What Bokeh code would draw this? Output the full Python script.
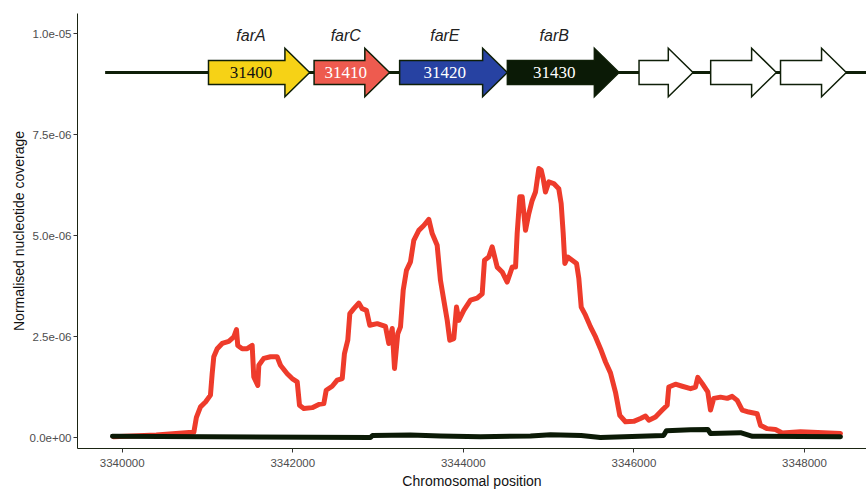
from bokeh.plotting import figure
from bokeh.models import Range1d, FixedTicker, CustomJSTickFormatter, ColumnDataSource
from bokeh.core.properties import value
from bokeh.embed import file_html
from bokeh.resources import INLINE

# ---------------- data ----------------
# coverage (units of 1e-6)
red_pos = [3339898, 3340400, 3340821, 3340840, 3340870, 3340918, 3340977, 3341035, 3341055, 3341074,
           3341114, 3341172, 3341250, 3341309, 3341340, 3341355, 3341407, 3341466, 3341524, 3341543,
           3341590, 3341602, 3341660, 3341739, 3341817, 3341856, 3341935, 3341993, 3342052, 3342079,
           3342129, 3342228, 3342305, 3342364, 3342392, 3342462, 3342521, 3342580, 3342606, 3342645,
           3342669, 3342716, 3342774, 3342814, 3342864, 3342903, 3342990, 3343087, 3343126, 3343166,
           3343193, 3343231, 3343263, 3343295, 3343333, 3343380, 3343419, 3343478, 3343536, 3343595,
           3343635, 3343693, 3343732, 3343771, 3343811, 3343841, 3343888, 3343920, 3343947, 3344005,
           3344084, 3344162, 3344221, 3344248, 3344298, 3344338, 3344377, 3344397, 3344455, 3344514,
           3344573, 3344612, 3344631, 3344662, 3344690, 3344729, 3344767, 3344807, 3344846, 3344885,
           3344913, 3344936, 3344963, 3345002, 3345060, 3345119, 3345147, 3345171, 3345190, 3345225,
           3345276, 3345327, 3345354, 3345382, 3345432, 3345491, 3345550, 3345608, 3345667, 3345725,
           3345784, 3345834, 3345901, 3345998, 3346077, 3346136, 3346175, 3346253, 3346332, 3346390,
           3346409, 3346487, 3346566, 3346664, 3346722, 3346749, 3346800, 3346866, 3346898, 3346936,
           3347015, 3347094, 3347152, 3347211, 3347270, 3347347, 3347445, 3347484, 3347563, 3347660,
           3347739, 3347953, 3348422]
red_cov = [0.02, 0.06, 0.13, 0.13, 0.50, 0.76, 0.88, 1.05, 1.58, 2.00,
           2.20, 2.33, 2.38, 2.49, 2.67, 2.28, 2.20, 2.20, 2.28, 1.50,
           1.29, 1.79, 1.96, 2.00, 2.00, 1.79, 1.58, 1.46, 1.38, 0.80,
           0.72, 0.74, 0.82, 0.84, 1.17, 1.27, 1.42, 1.46, 2.08, 2.41,
           3.07, 3.19, 3.33, 3.19, 3.15, 2.78, 2.82, 2.75, 2.33, 2.70,
           1.71, 2.57, 2.74, 3.65, 4.14, 4.35, 4.88, 5.13, 5.25, 5.40,
           5.05, 4.76, 3.89, 3.40, 2.90, 2.41, 2.45, 3.23, 2.90, 3.15,
           3.40, 3.45, 3.56, 4.39, 4.47, 4.72, 4.39, 4.22, 4.10, 3.85,
           4.22, 4.22, 5.05, 5.96, 5.96, 5.13, 5.54, 5.87, 6.08, 6.66,
           6.62, 6.41, 6.08, 6.33, 6.29, 6.16, 5.79, 5.05, 4.31, 4.47,
           4.39, 4.31, 3.94, 3.23, 3.03, 2.74, 2.49, 2.20, 1.87, 1.60,
           1.12, 0.55, 0.39, 0.40, 0.47, 0.53, 0.43, 0.51, 0.68, 0.80,
           1.25, 1.32, 1.27, 1.21, 1.25, 1.49, 1.34, 1.13, 0.68, 0.97,
           1.00, 0.97, 1.02, 0.92, 0.68, 0.63, 0.59, 0.30, 0.22, 0.20,
           0.11, 0.14, 0.10]

blk_pos = [3339886, 3342911, 3342935, 3343380, 3343732, 3344201, 3344787, 3345022, 3345382,
           3345608, 3346347, 3346382, 3346664, 3346866, 3346898, 3347250, 3347390, 3348422]
blk_cov = [0.03, 0.00, 0.05, 0.06, 0.04, 0.02, 0.04, 0.07, 0.05,
           0.00, 0.05, 0.17, 0.19, 0.20, 0.10, 0.12, 0.03, 0.02]

# gene track
gene_ids = ["31400", "31410", "31420", "31430", "", "", ""]
gene_names = ["farA", "farC", "farE", "farB", "", "", ""]
gene_start = [3341012, 3342250, 3343253, 3344516, 3346060, 3346900, 3347719]
gene_end = [3342198, 3343135, 3344516, 3345826, 3346693, 3347670, 3348490]
gene_fill = ["#F6D216", "#EE5B4F", "#2742A2", "#0B1A06", "#FFFFFF", "#FFFFFF", "#FFFFFF"]
gene_text_color = ["#111111", "#FFFFFF", "#FFFFFF", "#FFFFFF", "#FFFFFF", "#FFFFFF", "#FFFFFF"]
track_y = 9.04e-6
track_start = 3339800
track_end = 3348900

x_ticks = [3340000, 3342000, 3344000, 3346000, 3348000]
y_ticks = [0.0, 2.5e-6, 5.0e-6, 7.5e-6, 1.0e-5]

# ---------------- styles ----------------
SCALE = 1e-6
HEAD_LEN = 290
BODY_H = 0.297e-6
HEAD_H = 0.60e-6
NAME_DY = 0.92e-6
DARK = "#0F1F08"

p = figure(width=866, height=491,
           x_range=Range1d(3339476, 3348727), y_range=Range1d(-2.72e-7, 1.05e-5),
           output_backend="svg", toolbar_location=None,
           min_border_left=77, min_border_right=0, min_border_top=13, min_border_bottom=43)
p.outline_line_color = None
p.xgrid.visible = False
p.ygrid.visible = False
p.background_fill_color = "white"

# coverage lines
p.line(red_pos, [v * SCALE for v in red_cov], line_color="#EE3B2B",
       line_width=5, line_join="round", line_cap="round")
p.line(blk_pos, [v * SCALE for v in blk_cov], line_color="#0B1A06",
       line_width=5, line_join="round", line_cap="round")

# backbone
p.line([track_start, track_end], [track_y, track_y], line_color=DARK, line_width=3)

# arrows
xs, ys = [], []
for s, e in zip(gene_start, gene_end):
    h = e - HEAD_LEN
    xs.append([s, h, h, e, h, h, s])
    ys.append([track_y - BODY_H, track_y - BODY_H, track_y - HEAD_H, track_y,
               track_y + HEAD_H, track_y + BODY_H, track_y + BODY_H])
p.patches(xs, ys, fill_color=gene_fill, line_color=DARK, line_width=1.5, line_join="miter")

lab_x = [s + 0.42 * (e - s) for s, e in zip(gene_start, gene_end)]
src = ColumnDataSource(dict(x=lab_x, y=[track_y] * len(lab_x), t=gene_ids, c=gene_text_color,
                            ny=[track_y + NAME_DY] * len(lab_x), n=gene_names))
p.text(x="x", y="y", text="t", text_color="c", source=src, text_align="center",
       text_baseline="middle", text_font=value("Liberation Serif"), text_font_size="17px")
p.text(x="x", y="ny", text="n", text_color="#222222", source=src, text_align="center",
       text_baseline="middle", text_font=value("Liberation Sans"), text_font_size="16px",
       text_font_style="italic")

# axes
for ax in (p.xaxis[0], p.yaxis[0]):
    ax.axis_line_color = "#1A2412"
    ax.axis_line_width = 1
    ax.major_tick_line_color = "#333333"
    ax.major_tick_out = 4
    ax.major_tick_in = 0
    ax.minor_tick_line_color = None
    ax.major_label_text_font = "Liberation Sans"
    ax.major_label_text_font_size = "11.5px"
    ax.major_label_text_color = "#4D4D4D"
    ax.axis_label_text_font = "Liberation Sans"
    ax.axis_label_text_font_size = "14px"
    ax.axis_label_text_font_style = "normal"
    ax.axis_label_text_color = "#111111"

p.xaxis.ticker = FixedTicker(ticks=x_ticks)
p.xaxis.axis_label = "Chromosomal position"
p.xaxis.major_label_standoff = 6
p.xaxis.axis_label_standoff = 3
p.xaxis.formatter = CustomJSTickFormatter(code="return tick.toFixed(0);")

p.yaxis.ticker = FixedTicker(ticks=y_ticks)
p.yaxis.axis_label = "Normalised nucleotide coverage"
p.yaxis.major_label_standoff = 2
p.yaxis.axis_label_standoff = 0
p.yaxis.formatter = CustomJSTickFormatter(
    code="var s = tick.toExponential(1); return s.replace(/e([+-])(\\d)$/, 'e$10$2');")

open("out.html", "w").write(file_html(p, INLINE))
